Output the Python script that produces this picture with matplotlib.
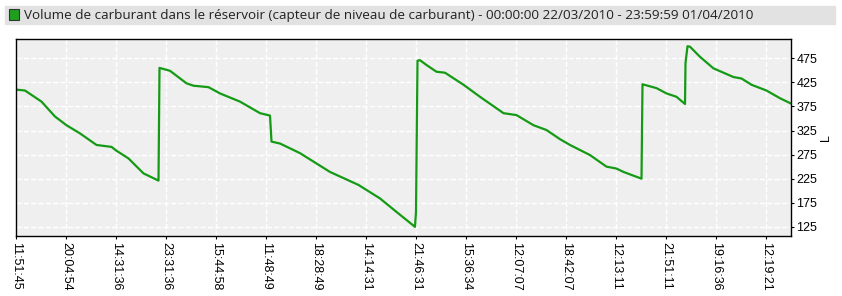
import matplotlib.pyplot as plt
from matplotlib.patches import Rectangle

# tick labels along the x axis (one every 50 px in the original)
time_labels = ['11:51:45', '20:04:54', '14:31:36', '23:31:36', '15:44:58', '11:48:49',
               '18:28:49', '14:14:31', '21:46:31', '15:36:34', '12:07:07', '18:42:07',
               '12:13:11', '21:51:11', '19:16:36', '12:19:21']

# fuel level trace, x in tick units
pos = [0.0, 0.18, 0.51, 0.78, 1.01, 1.28, 1.61, 1.91, 2.01, 2.25, 2.55, 2.85,
       2.87, 3.08, 3.41, 3.55, 3.85, 4.08, 4.48, 4.88, 5.08,
       5.11, 5.28, 5.68, 6.28, 6.85, 7.28, 7.61, 7.98, 8.0,
       8.03, 8.08, 8.21, 8.41, 8.58, 8.95, 9.28, 9.75, 10.01, 10.35, 10.61, 10.88,
       11.08, 11.48, 11.81, 12.01, 12.15, 12.51,
       12.53, 12.81, 13.01, 13.21, 13.38,
       13.39, 13.43, 13.48, 13.68, 13.95, 14.35, 14.51, 14.71, 15.01, 15.28, 15.5]
litres = [410, 408, 385, 354, 336, 319, 295, 291, 283, 267, 236, 221,
          455, 449, 423, 418, 415, 402, 385, 361, 356,
          302, 298, 278, 239, 212, 184, 156, 125, 156,
          470, 471, 461, 447, 445, 420, 395, 361, 357, 336, 326, 307,
          295, 274, 250, 246, 239, 225,
          421, 413, 402, 395, 380,
          465, 500, 499, 478, 454, 436, 433, 420, 408, 392, 381]

y_ticks = [125, 175, 225, 275, 325, 375, 425, 475]

fig = plt.figure(figsize=(8.42, 2.96), dpi=100)
ax = fig.add_axes([16/842, 60/296, 775/842, 197/296])
ax.set_facecolor('#efefef')

ax.plot(pos, litres, color='#159a15', lw=1.6)

ax.set_xlim(0, 15.5)
ax.set_ylim(106, 515)
ax.set_xticks(range(len(time_labels)))
ax.set_xticklabels(time_labels, rotation=270, fontsize=9, family='Liberation Sans')
ax.set_yticks(y_ticks)
ax.set_yticklabels([str(v) for v in y_ticks], fontsize=9, family='Liberation Sans')
ax.yaxis.tick_right()
ax.yaxis.set_label_position('right')
ax.set_ylabel('L', fontsize=9, family='Liberation Sans', rotation=90, labelpad=2)
ax.tick_params(length=2, pad=2)
ax.grid(True, color='white', ls='--', lw=1)
ax.set_axisbelow(True)
for s in ax.spines.values():
    s.set_color('black')
    s.set_linewidth(1)

# title bar
fig.patches.append(Rectangle((5/842, 1 - 24/296), 830/842, 18/296,
                             transform=fig.transFigure, color='#e2e2e2', zorder=0))
fig.patches.append(Rectangle((9/842, 1 - 20/296), 10/842, 11/296,
                             transform=fig.transFigure, facecolor='#1ea01e',
                             edgecolor='#333333', lw=0.8, zorder=1))
fig.text(24/842, 1 - 15/296,
         'Volume de carburant dans le réservoir (capteur de niveau de carburant) '
         '- 00:00:00 22/03/2010 - 23:59:59 01/04/2010',
         fontsize=9.7, family='Open Sans', va='center', ha='left', color='#222222')

fig.savefig('out.png', dpi=100)
